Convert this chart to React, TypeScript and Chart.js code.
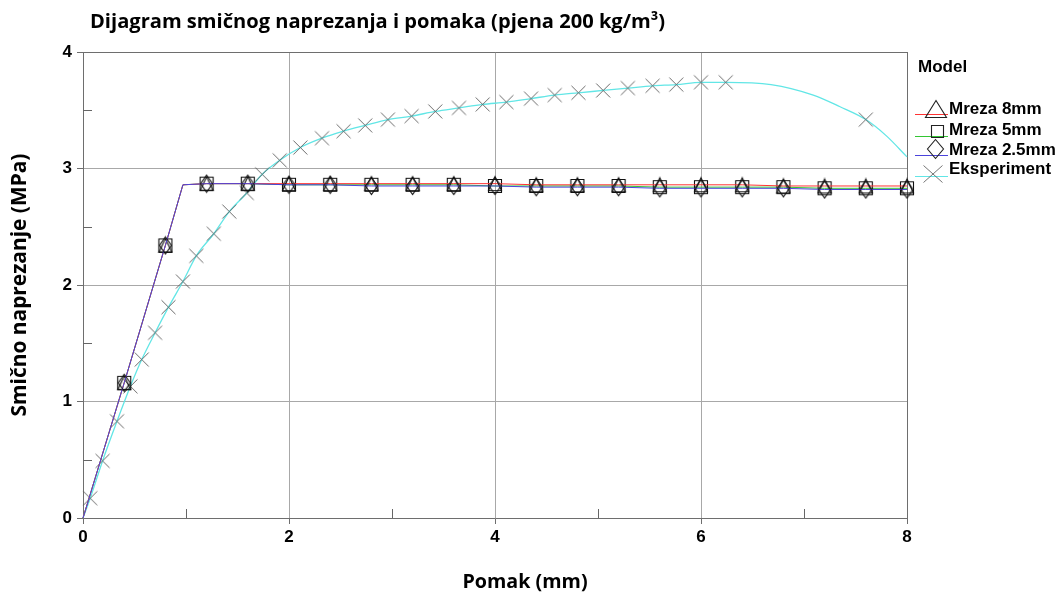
import { useEffect, useRef } from 'react';
import { Chart, registerables } from 'chart.js';

Chart.register(...registerables);

// ---- data ----
const modelX = [0, 0.4, 0.8, 0.97, 1.2, 1.6, 2.0, 2.4, 2.8, 3.2, 3.6, 4.0, 4.4, 4.8, 5.2, 5.6, 6.0, 6.4, 6.8, 7.2, 7.6, 8.0];
const mreza8 = [0, 1.16, 2.34, 2.86, 2.87, 2.87, 2.87, 2.87, 2.87, 2.87, 2.87, 2.87, 2.86, 2.86, 2.86, 2.86, 2.86, 2.86, 2.85, 2.85, 2.85, 2.85];
const mreza5 = [0, 1.16, 2.34, 2.86, 2.87, 2.87, 2.86, 2.86, 2.86, 2.86, 2.86, 2.85, 2.85, 2.85, 2.85, 2.84, 2.84, 2.84, 2.84, 2.83, 2.83, 2.83];
const mreza25 = [0, 1.16, 2.34, 2.86, 2.87, 2.87, 2.86, 2.86, 2.85, 2.85, 2.85, 2.85, 2.84, 2.84, 2.84, 2.83, 2.83, 2.83, 2.83, 2.82, 2.82, 2.82];
const modelMarked = [false, true, true, false, true, true, true, true, true, true, true, true, true, true, true, true, true, true, true, true, true, true];

const expX = [0, 0.07, 0.19, 0.33, 0.46, 0.57, 0.70, 0.83, 0.97, 1.10, 1.27, 1.42, 1.59, 1.74, 1.91, 2.11, 2.32, 2.53, 2.74, 2.96, 3.19, 3.42, 3.65, 3.88, 4.11, 4.35, 4.58, 4.81, 5.05, 5.29, 5.53, 5.76, 6.0, 6.24, 6.68, 7.09, 7.35, 7.6, 7.8, 8.0];
const expY = [0, 0.17, 0.49, 0.83, 1.13, 1.36, 1.59, 1.81, 2.03, 2.25, 2.44, 2.63, 2.79, 2.95, 3.07, 3.18, 3.26, 3.32, 3.37, 3.42, 3.45, 3.49, 3.52, 3.55, 3.57, 3.60, 3.63, 3.65, 3.67, 3.69, 3.71, 3.72, 3.74, 3.74, 3.72, 3.63, 3.53, 3.42, 3.28, 3.10];
const expMarked = [false, true, true, true, true, true, true, true, true, true, true, true, true, true, true, true, true, true, true, true, true, true, true, true, true, true, true, true, true, true, true, true, true, true, false, false, false, true, false, false];

const xTicksMajor = [0, 2, 4, 6, 8];
const xTicksMinor = [1, 3, 5, 7];
const yTicksMinor = [0.5, 1.5, 2.5, 3.5];

const TITLE = 'Dijagram smičnog naprezanja i pomaka (pjena 200 kg/m³)';
const X_TITLE = 'Pomak (mm)';
const Y_TITLE = 'Smično naprezanje (MPa)';
const LEGEND_TITLE = 'Model';
const LABELS = ['Mreza 8mm', 'Mreza 5mm', 'Mreza 2.5mm', 'Eksperiment'];

const RED = '#ff3333';
const GREEN = '#33c633';
const BLUE = '#4b44dc';
const CYAN = '#62e6e6';

function makeMarker(kind: string, w: number, h: number, color: string, lw: number): HTMLCanvasElement {
  const pad = 1;
  const c = document.createElement('canvas');
  c.width = w + pad * 2 + 1;
  c.height = h + pad * 2 + 1;
  const g = c.getContext('2d')!;
  g.strokeStyle = color;
  g.lineWidth = lw;
  g.translate(pad + 0.5, pad + 0.5);
  g.beginPath();
  if (kind === 'tri') {
    g.moveTo(w / 2, 0);
    g.lineTo(w, h);
    g.lineTo(0, h);
    g.closePath();
  } else if (kind === 'sq') {
    g.rect(0, 0, w, h);
  } else if (kind === 'dia') {
    g.moveTo(w / 2, 0);
    g.lineTo(w, h / 2);
    g.lineTo(w / 2, h);
    g.lineTo(0, h / 2);
    g.closePath();
  } else {
    g.moveTo(0, 0);
    g.lineTo(w, h);
    g.moveTo(w, 0);
    g.lineTo(0, h);
  }
  g.stroke();
  return c;
}

function fitSize(text: string, family: string, target: number): number {
  const c = document.createElement('canvas').getContext('2d')!;
  c.font = `bold 20px ${family}`;
  const w = c.measureText(text).width;
  return Math.round((20 * target / w) * 10) / 10;
}

export default function App() {
  const ref = useRef<HTMLCanvasElement>(null);

  useEffect(() => {
    const canvas = ref.current!;
    const TFAM = '"Open Sans", sans-serif';
    const AFAM = '"Liberation Sans", Arial, sans-serif';
    const titleSize = fitSize(TITLE, TFAM, 576);
    const xTitleSize = fitSize(X_TITLE, TFAM, 125);
    const yTitleSize = fitSize(Y_TITLE, TFAM, 263);

    const mTri = makeMarker('tri', 13, 14, '#111', 1.1);
    const mSq = makeMarker('sq', 13, 13, '#111', 1.1);
    const mDia = makeMarker('dia', 12, 17, '#111', 1.1);
    const mX = makeMarker('x', 14, 14, '#5a5a5a', 0.9);
    const lTri = makeMarker('tri', 21, 17, '#222', 1.1);
    const lSq = makeMarker('sq', 12, 12, '#222', 1.1);
    const lDia = makeMarker('dia', 16, 19, '#222', 1.1);
    const lX = makeMarker('x', 19, 17, '#666', 0.9);

    const modelPts = (ys: number[]) => modelX.map((x, i) => ({ x, y: ys[i] }));
    const modelRadius = (c: any) => (modelMarked[c.dataIndex] ? 7 : 0);

    const decor = {
      id: 'decor',
      afterDraw(chart: any) {
        const { ctx, chartArea: a, scales } = chart;
        ctx.save();
        // minor inward ticks
        ctx.strokeStyle = '#666';
        ctx.lineWidth = 1;
        ctx.beginPath();
        xTicksMinor.forEach((v) => {
          const px = Math.round(scales.x.getPixelForValue(v)) + 0.5;
          ctx.moveTo(px, a.bottom);
          ctx.lineTo(px, a.bottom - 9);
        });
        yTicksMinor.forEach((v) => {
          const py = Math.round(scales.y.getPixelForValue(v)) + 0.5;
          ctx.moveTo(a.left, py);
          ctx.lineTo(a.left + 9, py);
        });
        ctx.stroke();

        // title
        ctx.fillStyle = '#000';
        ctx.textBaseline = 'alphabetic';
        ctx.textAlign = 'left';
        ctx.font = `bold ${titleSize}px ${TFAM}`;
        ctx.fillText(TITLE, 90, 28);
        // x title
        ctx.textAlign = 'center';
        ctx.font = `bold ${xTitleSize}px ${TFAM}`;
        ctx.fillText(X_TITLE, 525, 588);

        // legend
        ctx.textAlign = 'left';
        ctx.textBaseline = 'middle';
        ctx.font = `bold 17px ${AFAM}`;
        ctx.fillText(LEGEND_TITLE, 918, 67);
        const items = [
          { color: RED, lineY: 114, img: lTri, mx: 936, my: 109, ty: 109 },
          { color: GREEN, lineY: 136, img: lSq, mx: 937, my: 131, ty: 130 },
          { color: BLUE, lineY: 155, img: lDia, mx: 935, my: 149, ty: 150 },
          { color: CYAN, lineY: 176, img: lX, mx: 933, my: 174, ty: 169 },
        ];
        items.forEach((it, i) => {
          ctx.strokeStyle = it.color;
          ctx.lineWidth = 1;
          ctx.beginPath();
          ctx.moveTo(915, it.lineY + 0.5);
          ctx.lineTo(948, it.lineY + 0.5);
          ctx.stroke();
          ctx.drawImage(it.img, Math.round(it.mx - it.img.width / 2), Math.round(it.my - it.img.height / 2));
          ctx.fillStyle = '#000';
          ctx.fillText(LABELS[i], 949, it.ty);
        });
        ctx.restore();
      },
    };

    const chart = new Chart(canvas, {
      type: 'scatter',
      data: {
        datasets: [
          {
            label: LABELS[2],
            data: modelPts(mreza25),
            showLine: true,
            borderColor: BLUE,
            backgroundColor: BLUE,
            borderWidth: 1,
            pointStyle: mDia as any,
            pointRadius: modelRadius,
            clip: false as any,
          },
          {
            label: LABELS[0],
            data: modelPts(mreza8),
            showLine: true,
            borderColor: RED,
            backgroundColor: RED,
            borderWidth: 1,
            pointStyle: mTri as any,
            pointRadius: modelRadius,
            clip: false as any,
          },
          {
            label: LABELS[1],
            data: modelPts(mreza5),
            showLine: true,
            borderColor: GREEN,
            backgroundColor: GREEN,
            borderWidth: 1,
            pointStyle: mSq as any,
            pointRadius: modelRadius,
            clip: false as any,
          },
          {
            label: LABELS[3],
            data: expX.map((x, i) => ({ x, y: expY[i] })),
            showLine: true,
            borderColor: CYAN,
            backgroundColor: CYAN,
            borderWidth: 1.3,
            cubicInterpolationMode: 'monotone',
            pointStyle: mX as any,
            pointRadius: (c: any) => (expMarked[c.dataIndex] ? 7 : 0),
            clip: false as any,
          },
        ],
      },
      options: {
        animation: false,
        responsive: false,
        events: [],
        layout: { padding: { left: 0, top: 52, right: 156, bottom: 0 } },
        plugins: {
          legend: { display: false },
          title: { display: false },
          tooltip: { enabled: false },
        },
        scales: {
          x: {
            type: 'linear',
            min: 0,
            max: 8,
            afterFit: (s: any) => { s.height = 75; },
            afterBuildTicks: (s: any) => { s.ticks = xTicksMajor.map((v) => ({ value: v })); },
            ticks: {
              stepSize: 2,
              color: '#000',
              padding: 3,
              font: { family: AFAM, size: 17, weight: 'bold' },
              maxRotation: 0,
            },
            grid: {
              color: (c: any) => (c.tick && c.tick.value === 8 ? '#6e6e6e' : '#a8a8a8'),
              tickColor: '#6e6e6e',
              tickLength: 6,
              lineWidth: 1,
            },
            border: { display: true, color: '#6e6e6e', width: 1 },
          },
          y: {
            type: 'linear',
            min: 0,
            max: 4,
            afterFit: (s: any) => { s.width = 83; },
            ticks: {
              stepSize: 1,
              color: '#000',
              padding: 5,
              font: { family: AFAM, size: 17, weight: 'bold' },
            },
            grid: {
              color: (c: any) => (c.tick && c.tick.value === 4 ? '#6e6e6e' : '#a8a8a8'),
              tickColor: '#6e6e6e',
              tickLength: 6,
              lineWidth: 1,
            },
            border: { display: true, color: '#6e6e6e', width: 1 },
            title: {
              display: true,
              text: Y_TITLE,
              color: '#000',
              font: { family: TFAM, size: yTitleSize, weight: 'bold' },
              padding: { top: 20 - yTitleSize * 0.6, bottom: 0 },
            },
          },
        },
      },
      plugins: [decor],
    });
    return () => chart.destroy();
  }, []);

  return (
    <div style={{ position: 'absolute', left: 0, top: 0, width: 1063, height: 593, background: '#fff' }}>
      <canvas ref={ref} width={1063} height={593} style={{ display: 'block', width: 1063, height: 593 }} />
    </div>
  );
}
